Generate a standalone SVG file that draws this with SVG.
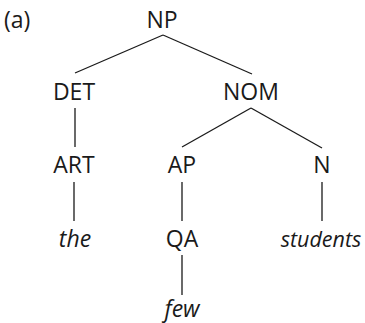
<svg xmlns="http://www.w3.org/2000/svg" width="365" height="323" viewBox="0 0 365 323">
<style>
text{font-family:"Open Sans","Noto Sans",sans-serif;font-size:23px;fill:#1a1a1a;text-anchor:middle}
.it{font-style:italic}
.e{stroke:#1a1a1a;stroke-width:1.3;fill:none}
</style>
<rect width="365" height="323" fill="#fff"/>
<text x="4" y="28" style="text-anchor:start">(a)</text>
<g id="NP"><text x="162" y="28">NP</text></g>
<g id="DET"><text x="74" y="100">DET</text></g>
<g id="NOM"><text x="251" y="100">NOM</text></g>
<g id="ART"><text x="74" y="172.5">ART</text></g>
<g id="AP"><text x="182" y="172.5">AP</text></g>
<g id="N"><text x="322" y="172.5">N</text></g>
<g id="the"><text class="it" x="75" y="247">the</text></g>
<g id="QA"><text x="182" y="247">QA</text></g>
<g id="students"><text class="it" x="321" y="247" style="font-size:21.5px">students</text></g>
<g id="few"><text class="it" x="182" y="316.5">few</text></g>
<g id="connectors" class="e">
<line x1="163" y1="35" x2="75" y2="73"/>
<line x1="163" y1="35" x2="252" y2="74"/>
<line x1="75" y1="108" x2="75" y2="147"/>
<line x1="251" y1="108" x2="182" y2="147"/>
<line x1="251" y1="108" x2="322" y2="148"/>
<line x1="74" y1="182" x2="74" y2="221"/>
<line x1="182" y1="182" x2="182" y2="221"/>
<line x1="322" y1="182" x2="322" y2="221"/>
<line x1="182" y1="255" x2="182" y2="295"/>
</g>
</svg>
